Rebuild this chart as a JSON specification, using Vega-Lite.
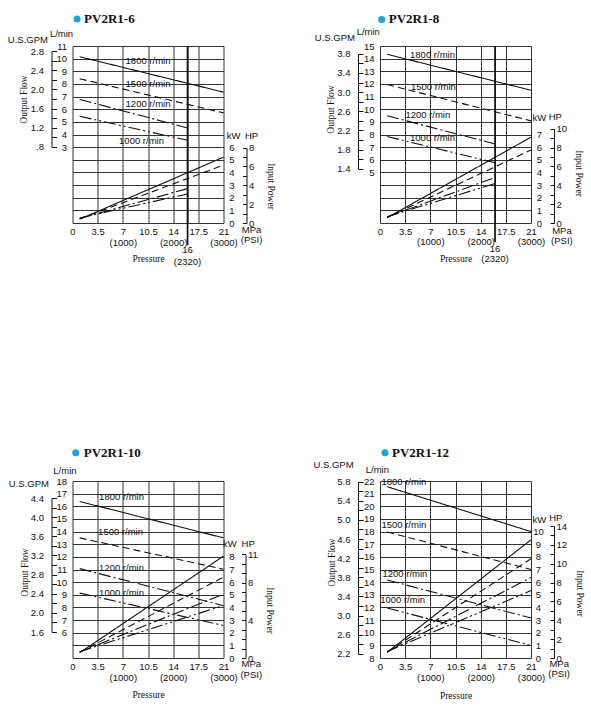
{
  "$schema": "https://vega.github.io/schema/vega-lite/v6.json",
  "background": "white",
  "padding": {"left": 7.5, "top": 13, "right": 0, "bottom": 0},
  "config": {
    "view": {"stroke": null},
    "axis": {"labelFont": "Liberation Sans", "labelFontSize": 9.5, "labelColor": "#111", "titleFont": "Liberation Serif", "titleFontSize": 9.5, "titleFontWeight": "normal", "titleColor": "#111", "gridColor": "#333", "gridWidth": 1, "gridOpacity": 1, "tickColor": "#111", "domainColor": "#111"}
  },
  "datasets": {
    "curves": [
      {"panel": "PV2R1-6", "kind": "flow", "rpm": "1800", "p": 1, "v": 10.15}, {"panel": "PV2R1-6", "kind": "flow", "rpm": "1800", "p": 21, "v": 7.35},
      {"panel": "PV2R1-6", "kind": "flow", "rpm": "1500", "p": 1, "v": 8.41}, {"panel": "PV2R1-6", "kind": "flow", "rpm": "1500", "p": 21, "v": 5.71},
      {"panel": "PV2R1-6", "kind": "flow", "rpm": "1200", "p": 1, "v": 6.77}, {"panel": "PV2R1-6", "kind": "flow", "rpm": "1200", "p": 16, "v": 4.52},
      {"panel": "PV2R1-6", "kind": "flow", "rpm": "1000", "p": 1, "v": 5.44}, {"panel": "PV2R1-6", "kind": "flow", "rpm": "1000", "p": 16, "v": 3.54},
      {"panel": "PV2R1-6", "kind": "power", "rpm": "1800", "p": 1, "v": 0.3}, {"panel": "PV2R1-6", "kind": "power", "rpm": "1800", "p": 21, "v": 5.21},
      {"panel": "PV2R1-6", "kind": "power", "rpm": "1500", "p": 1, "v": 0.33}, {"panel": "PV2R1-6", "kind": "power", "rpm": "1500", "p": 21, "v": 4.58},
      {"panel": "PV2R1-6", "kind": "power", "rpm": "1200", "p": 1, "v": 0.36}, {"panel": "PV2R1-6", "kind": "power", "rpm": "1200", "p": 16, "v": 2.72},
      {"panel": "PV2R1-6", "kind": "power", "rpm": "1000", "p": 1, "v": 0.4}, {"panel": "PV2R1-6", "kind": "power", "rpm": "1000", "p": 16, "v": 2.3},

      {"panel": "PV2R1-8", "kind": "flow", "rpm": "1800", "p": 1, "v": 14.34}, {"panel": "PV2R1-8", "kind": "flow", "rpm": "1800", "p": 21, "v": 11.5},
      {"panel": "PV2R1-8", "kind": "flow", "rpm": "1500", "p": 1, "v": 11.95}, {"panel": "PV2R1-8", "kind": "flow", "rpm": "1500", "p": 21, "v": 9.08},
      {"panel": "PV2R1-8", "kind": "flow", "rpm": "1200", "p": 1, "v": 9.48}, {"panel": "PV2R1-8", "kind": "flow", "rpm": "1200", "p": 16, "v": 7.25},
      {"panel": "PV2R1-8", "kind": "flow", "rpm": "1000", "p": 1, "v": 7.84}, {"panel": "PV2R1-8", "kind": "flow", "rpm": "1000", "p": 16, "v": 5.77},
      {"panel": "PV2R1-8", "kind": "power", "rpm": "1800", "p": 1, "v": 0.42}, {"panel": "PV2R1-8", "kind": "power", "rpm": "1800", "p": 21, "v": 6.79},
      {"panel": "PV2R1-8", "kind": "power", "rpm": "1500", "p": 1, "v": 0.45}, {"panel": "PV2R1-8", "kind": "power", "rpm": "1500", "p": 21, "v": 5.78},
      {"panel": "PV2R1-8", "kind": "power", "rpm": "1200", "p": 1, "v": 0.48}, {"panel": "PV2R1-8", "kind": "power", "rpm": "1200", "p": 16, "v": 3.6},
      {"panel": "PV2R1-8", "kind": "power", "rpm": "1000", "p": 1, "v": 0.5}, {"panel": "PV2R1-8", "kind": "power", "rpm": "1000", "p": 16, "v": 3.12},

      {"panel": "PV2R1-10", "kind": "flow", "rpm": "1800", "p": 1, "v": 16.38}, {"panel": "PV2R1-10", "kind": "flow", "rpm": "1800", "p": 21, "v": 13.5},
      {"panel": "PV2R1-10", "kind": "flow", "rpm": "1500", "p": 1, "v": 13.5}, {"panel": "PV2R1-10", "kind": "flow", "rpm": "1500", "p": 21, "v": 11.02},
      {"panel": "PV2R1-10", "kind": "flow", "rpm": "1200", "p": 1, "v": 11.07}, {"panel": "PV2R1-10", "kind": "flow", "rpm": "1200", "p": 21, "v": 8.14},
      {"panel": "PV2R1-10", "kind": "flow", "rpm": "1000", "p": 1, "v": 9.13}, {"panel": "PV2R1-10", "kind": "flow", "rpm": "1000", "p": 21, "v": 6.57},
      {"panel": "PV2R1-10", "kind": "power", "rpm": "1800", "p": 1, "v": 0.42}, {"panel": "PV2R1-10", "kind": "power", "rpm": "1800", "p": 21, "v": 8.06},
      {"panel": "PV2R1-10", "kind": "power", "rpm": "1500", "p": 1, "v": 0.45}, {"panel": "PV2R1-10", "kind": "power", "rpm": "1500", "p": 21, "v": 6.4},
      {"panel": "PV2R1-10", "kind": "power", "rpm": "1200", "p": 1, "v": 0.48}, {"panel": "PV2R1-10", "kind": "power", "rpm": "1200", "p": 21, "v": 5.05},
      {"panel": "PV2R1-10", "kind": "power", "rpm": "1000", "p": 1, "v": 0.5}, {"panel": "PV2R1-10", "kind": "power", "rpm": "1000", "p": 21, "v": 4.16},

      {"panel": "PV2R1-12", "kind": "flow", "rpm": "1800", "p": 1, "v": 21.55}, {"panel": "PV2R1-12", "kind": "flow", "rpm": "1800", "p": 21, "v": 18.0},
      {"panel": "PV2R1-12", "kind": "flow", "rpm": "1500", "p": 1, "v": 17.97}, {"panel": "PV2R1-12", "kind": "flow", "rpm": "1500", "p": 21, "v": 15.0},
      {"panel": "PV2R1-12", "kind": "flow", "rpm": "1200", "p": 1, "v": 14.17}, {"panel": "PV2R1-12", "kind": "flow", "rpm": "1200", "p": 21, "v": 11.16},
      {"panel": "PV2R1-12", "kind": "flow", "rpm": "1000", "p": 1, "v": 11.95}, {"panel": "PV2R1-12", "kind": "flow", "rpm": "1000", "p": 21, "v": 8.99},
      {"panel": "PV2R1-12", "kind": "power", "rpm": "1800", "p": 1, "v": 0.45}, {"panel": "PV2R1-12", "kind": "power", "rpm": "1800", "p": 21, "v": 9.35},
      {"panel": "PV2R1-12", "kind": "power", "rpm": "1500", "p": 1, "v": 0.48}, {"panel": "PV2R1-12", "kind": "power", "rpm": "1500", "p": 21, "v": 7.85},
      {"panel": "PV2R1-12", "kind": "power", "rpm": "1200", "p": 1, "v": 0.5}, {"panel": "PV2R1-12", "kind": "power", "rpm": "1200", "p": 21, "v": 6.37},
      {"panel": "PV2R1-12", "kind": "power", "rpm": "1000", "p": 1, "v": 0.52}, {"panel": "PV2R1-12", "kind": "power", "rpm": "1000", "p": 21, "v": 5.33}
    ],
    "notes": [
      {"panel": "PV2R1-6", "text": "1800 r/min", "p": 10.5, "u": 12.83},
      {"panel": "PV2R1-6", "text": "1500 r/min", "p": 10.5, "u": 11.03},
      {"panel": "PV2R1-6", "text": "1200 r/min", "p": 10.5, "u": 9.39},
      {"panel": "PV2R1-6", "text": "1000 r/min", "p": 9.6, "u": 6.48},
      {"panel": "PV2R1-6", "text": "U.S.GPM", "p": -6.2, "u": 14.47},
      {"panel": "PV2R1-6", "text": "L/min", "p": -1.53, "u": 14.93},
      {"panel": "PV2R1-6", "text": "kW", "p": 22.4, "u": 6.88},
      {"panel": "PV2R1-6", "text": "HP", "p": 24.9, "u": 6.88},
      {"panel": "PV2R1-6", "text": "MPa", "p": 24.9, "u": -0.53},
      {"panel": "PV2R1-6", "text": "(PSI)", "p": 24.9, "u": -1.38},
      {"panel": "PV2R1-6", "text": "16", "p": 16, "u": -2.15},
      {"panel": "PV2R1-6", "text": "(2320)", "p": 16, "u": -3.05},

      {"panel": "PV2R1-8", "text": "1800 r/min", "p": 7.3, "u": 13.3},
      {"panel": "PV2R1-8", "text": "1500 r/min", "p": 7.43, "u": 10.75},
      {"panel": "PV2R1-8", "text": "1200 r/min", "p": 6.65, "u": 8.58},
      {"panel": "PV2R1-8", "text": "1000 r/min", "p": 7.3, "u": 6.72},
      {"panel": "PV2R1-8", "text": "U.S.GPM", "p": -6.27, "u": 14.6},
      {"panel": "PV2R1-8", "text": "L/min", "p": -1.63, "u": 15.07},
      {"panel": "PV2R1-8", "text": "kW", "p": 22.16, "u": 8.29},
      {"panel": "PV2R1-8", "text": "HP", "p": 24.38, "u": 8.35},
      {"panel": "PV2R1-8", "text": "MPa", "p": 25.3, "u": -0.61},
      {"panel": "PV2R1-8", "text": "(PSI)", "p": 25.3, "u": -1.41},
      {"panel": "PV2R1-8", "text": "16", "p": 16, "u": -2.05},
      {"panel": "PV2R1-8", "text": "(2320)", "p": 16, "u": -2.85},

      {"panel": "PV2R1-10", "text": "1800 r/min", "p": 6.82, "u": 12.77},
      {"panel": "PV2R1-10", "text": "1500 r/min", "p": 6.68, "u": 9.97},
      {"panel": "PV2R1-10", "text": "1200 r/min", "p": 6.82, "u": 7.15},
      {"panel": "PV2R1-10", "text": "1000 r/min", "p": 6.82, "u": 5.13},
      {"panel": "PV2R1-10", "text": "U.S.GPM", "p": -6.06, "u": 13.77},
      {"panel": "PV2R1-10", "text": "L/min", "p": -1.05, "u": 14.79},
      {"panel": "PV2R1-10", "text": "kW", "p": 21.9, "u": 9.03},
      {"panel": "PV2R1-10", "text": "HP", "p": 24.43, "u": 9.03},
      {"panel": "PV2R1-10", "text": "MPa", "p": 24.86, "u": -0.5},
      {"panel": "PV2R1-10", "text": "(PSI)", "p": 24.86, "u": -1.31},

      {"panel": "PV2R1-12", "text": "1800 r/min", "p": 3.32, "u": 13.95},
      {"panel": "PV2R1-12", "text": "1500 r/min", "p": 3.32, "u": 10.54},
      {"panel": "PV2R1-12", "text": "1200 r/min", "p": 3.46, "u": 6.67},
      {"panel": "PV2R1-12", "text": "1000 r/min", "p": 3.14, "u": 4.6},
      {"panel": "PV2R1-12", "text": "U.S.GPM", "p": -6.46, "u": 15.26},
      {"panel": "PV2R1-12", "text": "L/min", "p": -0.37, "u": 14.87},
      {"panel": "PV2R1-12", "text": "kW", "p": 22.15, "u": 10.89},
      {"panel": "PV2R1-12", "text": "HP", "p": 24.45, "u": 11.07},
      {"panel": "PV2R1-12", "text": "MPa", "p": 24.92, "u": -0.5},
      {"panel": "PV2R1-12", "text": "(PSI)", "p": 24.92, "u": -1.28}
    ],
    "heads": [
      {"panel": "PV2R1-6", "p": 0.64, "u": 16.13},
      {"panel": "PV2R1-8", "p": 0.24, "u": 16.1},
      {"panel": "PV2R1-10", "p": 0.45, "u": 16.24},
      {"panel": "PV2R1-12", "p": 0.69, "u": 16.23}
    ],
    "limits": [
      {"panel": "PV2R1-6", "p": 16, "top": 14, "bottom": -1.75},
      {"panel": "PV2R1-8", "p": 16, "top": 14, "bottom": -1.5}
    ],
    "ranges": [
      {"panel": "PV2R1-6", "gpm": 0.8, "hp": 0}, {"panel": "PV2R1-6", "gpm": 2.8, "hp": 8},
      {"panel": "PV2R1-8", "gpm": 1.4, "hp": 0}, {"panel": "PV2R1-8", "gpm": 3.8, "hp": 10},
      {"panel": "PV2R1-10", "gpm": 1.6, "hp": 0}, {"panel": "PV2R1-10", "gpm": 4.4, "hp": 11},
      {"panel": "PV2R1-12", "gpm": 2.2, "hp": 0}, {"panel": "PV2R1-12", "gpm": 5.8, "hp": 14}
    ]
  },
  "columns": 2,
  "spacing": {"row": 179, "column": 37.5},
  "concat": [
    {
      "width": 151, "height": 177,
      "resolve": {"scale": {"y": "independent"}, "axis": {"y": "independent"}},
      "layer": [
        {
          "data": {"name": "curves"},
          "transform": [{"filter": "datum.panel == 'PV2R1-6' && datum.kind == 'power'"}],
          "mark": {"type": "line", "color": "#111", "strokeWidth": 1.1},
          "encoding": {
            "x": {"field": "p", "type": "quantitative", "scale": {"domain": [0, 21], "nice": false, "zero": false},
              "axis": {"values": [0, 3.5, 7, 10.5, 14, 16, 17.5, 21], "tickCount": 30, "grid": true, "ticks": false, "domain": false, "labelFlush": false, "labelOverlap": false, "labelBound": false, "labelPadding": 3, "labelLineHeight": 11,
                "labelExpr": "datum.value == 7 ? ['7','(1000)'] : datum.value == 14 ? ['14','(2000)'] : datum.value == 21 ? ['21','(3000)'] : datum.value == 16 ? '' : '' + datum.value",
                "title": "Pressure", "titleY": 35, "titleBaseline": "middle"}},
            "y": {"field": "v", "type": "quantitative", "scale": {"domain": [0, 14], "nice": false, "zero": false},
              "axis": {"orient": "right", "values": [0, 1, 2, 3, 4, 5, 6, 7, 8, 9, 10, 11, 12, 13, 14], "grid": true, "ticks": false, "domain": false, "labelAlign": "center", "labelPadding": 8, "labelExpr": "datum.value <= 6 ? datum.label : ''", "title": null}},
            "strokeDash": {"field": "rpm", "type": "nominal", "scale": {"domain": ["1800", "1500", "1200", "1000"], "range": [[1, 0], [7, 4], [12, 3, 2, 3], [12, 3, 2, 3, 2, 3]]}, "legend": null}
          }
        },
        {
          "data": {"name": "curves"},
          "transform": [{"filter": "datum.panel == 'PV2R1-6' && datum.kind == 'flow'"}],
          "mark": {"type": "line", "color": "#111", "strokeWidth": 1.1},
          "encoding": {
            "x": {"field": "p", "type": "quantitative", "scale": {"domain": [0, 21], "nice": false, "zero": false}},
            "y": {"field": "v", "type": "quantitative", "scale": {"domain": [-3, 11], "nice": false, "zero": false},
              "axis": {"orient": "left", "values": [3, 4, 5, 6, 7, 8, 9, 10, 11], "grid": false, "ticks": false, "domain": false, "labelPadding": 6, "title": null}},
            "strokeDash": {"field": "rpm", "type": "nominal", "scale": {"domain": ["1800", "1500", "1200", "1000"], "range": [[1, 0], [7, 4], [12, 3, 2, 3], [12, 3, 2, 3, 2, 3]]}, "legend": null}
          }
        },
        {
          "data": {"name": "ranges"},
          "transform": [{"filter": "datum.panel == 'PV2R1-6'"}],
          "mark": {"type": "point", "opacity": 0},
          "encoding": {
            "x": {"datum": 10, "type": "quantitative", "scale": {"domain": [0, 21], "nice": false, "zero": false}},
            "y": {"field": "gpm", "type": "quantitative", "scale": {"domain": [-0.7926, 2.9062], "nice": false, "zero": false},
              "axis": {"orient": "left", "offset": 21, "values": [0.8, 1, 1.2, 1.4, 1.6, 1.8, 2, 2.2, 2.4, 2.6, 2.8], "grid": false, "ticks": true, "tickSize": -5, "domain": true, "domainDash": [0, 76.2, 95.7, 1000], "labelPadding": 13,
                "labelExpr": "datum.value == 0.8 ? '.8' : (round(datum.value * 10) % 4 == 0 ? format(datum.value, '.1f') : '')",
                "title": "Output Flow", "titleAngle": -90, "titleX": -28, "titleY": 53, "titleAlign": "center", "titleBaseline": "middle"}}
          }
        },
        {
          "data": {"name": "ranges"},
          "transform": [{"filter": "datum.panel == 'PV2R1-6'"}],
          "mark": {"type": "point", "opacity": 0},
          "encoding": {
            "x": {"datum": 10, "type": "quantitative", "scale": {"domain": [0, 21], "nice": false, "zero": false}},
            "y": {"field": "hp", "type": "quantitative", "scale": {"domain": [0, 18.774], "nice": false, "zero": false},
              "axis": {"orient": "right", "offset": 23, "values": [0, 1, 2, 3, 4, 5, 6, 7, 8], "grid": false, "ticks": true, "tickSize": -4, "domain": true, "domainDash": [75.4, 1000], "labelPadding": 6,
                "labelExpr": "datum.value % 2 == 0 ? datum.label : ''",
                "title": "Input Power", "titleAngle": 90, "titleX": 24, "titleY": 140, "titleAlign": "center", "titleBaseline": "middle"}}
          }
        },
        {
          "data": {"name": "limits"},
          "transform": [{"filter": "datum.panel == 'PV2R1-6'"}],
          "mark": {"type": "rule", "color": "#111", "strokeWidth": 1.7},
          "encoding": {
            "x": {"field": "p", "type": "quantitative", "scale": {"domain": [0, 21], "nice": false, "zero": false}},
            "y": {"field": "top", "type": "quantitative", "scale": {"domain": [0, 14], "nice": false, "zero": false}, "axis": null},
            "y2": {"field": "bottom"}
          }
        },
        {
          "data": {"name": "notes"},
          "transform": [{"filter": "datum.panel == 'PV2R1-6'"}],
          "mark": {"type": "text", "font": "Liberation Sans", "fontSize": 9.5, "color": "#111"},
          "encoding": {
            "x": {"field": "p", "type": "quantitative", "scale": {"domain": [0, 21], "nice": false, "zero": false}},
            "y": {"field": "u", "type": "quantitative", "scale": {"domain": [0, 14], "nice": false, "zero": false}, "axis": null},
            "text": {"field": "text"}
          }
        },
        {
          "data": {"name": "heads"},
          "transform": [{"filter": "datum.panel == 'PV2R1-6'"}],
          "mark": {"type": "point", "filled": true, "color": "#1fa3e0", "opacity": 1, "size": 50},
          "encoding": {
            "x": {"field": "p", "type": "quantitative", "scale": {"domain": [0, 21], "nice": false, "zero": false}},
            "y": {"field": "u", "type": "quantitative", "scale": {"domain": [0, 14], "nice": false, "zero": false}, "axis": null}
          }
        },
        {
          "data": {"name": "heads"},
          "transform": [{"filter": "datum.panel == 'PV2R1-6'"}],
          "mark": {"type": "text", "font": "Liberation Serif", "fontSize": 13, "fontWeight": "bold", "color": "#111", "align": "left", "dx": 7},
          "encoding": {
            "x": {"field": "p", "type": "quantitative", "scale": {"domain": [0, 21], "nice": false, "zero": false}},
            "y": {"field": "u", "type": "quantitative", "scale": {"domain": [0, 14], "nice": false, "zero": false}, "axis": null},
            "text": {"field": "panel"}
          }
        }
      ]
    },
    {
      "width": 151, "height": 177,
      "resolve": {"scale": {"y": "independent"}, "axis": {"y": "independent"}},
      "layer": [
        {
          "data": {"name": "curves"},
          "transform": [{"filter": "datum.panel == 'PV2R1-8' && datum.kind == 'power'"}],
          "mark": {"type": "line", "color": "#111", "strokeWidth": 1.1},
          "encoding": {
            "x": {"field": "p", "type": "quantitative", "scale": {"domain": [0, 21], "nice": false, "zero": false},
              "axis": {"values": [0, 3.5, 7, 10.5, 14, 16, 17.5, 21], "tickCount": 30, "grid": true, "ticks": false, "domain": false, "labelFlush": false, "labelOverlap": false, "labelBound": false, "labelPadding": 3, "labelLineHeight": 10,
                "labelExpr": "datum.value == 7 ? ['7','(1000)'] : datum.value == 14 ? ['14','(2000)'] : datum.value == 21 ? ['21','(3000)'] : datum.value == 16 ? '' : '' + datum.value",
                "title": "Pressure", "titleY": 35, "titleBaseline": "middle"}},
            "y": {"field": "v", "type": "quantitative", "scale": {"domain": [0, 14], "nice": false, "zero": false},
              "axis": {"orient": "right", "values": [0, 1, 2, 3, 4, 5, 6, 7, 8, 9, 10, 11, 12, 13, 14], "grid": true, "ticks": false, "domain": false, "labelAlign": "center", "labelPadding": 8, "labelExpr": "datum.value <= 7 ? datum.label : ''", "title": null}},
            "strokeDash": {"field": "rpm", "type": "nominal", "scale": {"domain": ["1800", "1500", "1200", "1000"], "range": [[1, 0], [7, 4], [12, 3, 2, 3], [12, 3, 2, 3, 2, 3]]}, "legend": null}
          }
        },
        {
          "data": {"name": "curves"},
          "transform": [{"filter": "datum.panel == 'PV2R1-8' && datum.kind == 'flow'"}],
          "mark": {"type": "line", "color": "#111", "strokeWidth": 1.1},
          "encoding": {
            "x": {"field": "p", "type": "quantitative", "scale": {"domain": [0, 21], "nice": false, "zero": false}},
            "y": {"field": "v", "type": "quantitative", "scale": {"domain": [1, 15], "nice": false, "zero": false},
              "axis": {"orient": "left", "values": [5, 6, 7, 8, 9, 10, 11, 12, 13, 14, 15], "grid": false, "ticks": false, "domain": false, "labelPadding": 6, "title": null}},
            "strokeDash": {"field": "rpm", "type": "nominal", "scale": {"domain": ["1800", "1500", "1200", "1000"], "range": [[1, 0], [7, 4], [12, 3, 2, 3], [12, 3, 2, 3, 2, 3]]}, "legend": null}
          }
        },
        {
          "data": {"name": "ranges"},
          "transform": [{"filter": "datum.panel == 'PV2R1-8'"}],
          "mark": {"type": "point", "opacity": 0},
          "encoding": {
            "x": {"datum": 10, "type": "quantitative", "scale": {"domain": [0, 21], "nice": false, "zero": false}},
            "y": {"field": "gpm", "type": "quantitative", "scale": {"domain": [0.2642, 3.963], "nice": false, "zero": false},
              "axis": {"orient": "left", "offset": 22, "values": [1.4, 1.6, 1.8, 2, 2.2, 2.4, 2.6, 2.8, 3, 3.2, 3.4, 3.6, 3.8], "grid": false, "ticks": true, "tickSize": -5, "domain": true, "domainDash": [0, 54.35, 114.8, 1000], "labelPadding": 13,
                "labelExpr": "(round(datum.value * 10) - 2) % 4 == 0 ? format(datum.value, '.1f') : ''",
                "title": "Output Flow", "titleAngle": -90, "titleX": -28, "titleY": 63, "titleAlign": "center", "titleBaseline": "middle"}}
          }
        },
        {
          "data": {"name": "ranges"},
          "transform": [{"filter": "datum.panel == 'PV2R1-8'"}],
          "mark": {"type": "point", "opacity": 0},
          "encoding": {
            "x": {"datum": 10, "type": "quantitative", "scale": {"domain": [0, 21], "nice": false, "zero": false}},
            "y": {"field": "hp", "type": "quantitative", "scale": {"domain": [0, 18.774], "nice": false, "zero": false},
              "axis": {"orient": "right", "offset": 23, "values": [0, 1, 2, 3, 4, 5, 6, 7, 8, 9, 10], "grid": false, "ticks": true, "tickSize": -4, "domain": true, "domainDash": [94.3, 1000], "labelPadding": 6,
                "labelExpr": "datum.value % 2 == 0 ? datum.label : ''",
                "title": "Input Power", "titleAngle": 90, "titleX": 24, "titleY": 127, "titleAlign": "center", "titleBaseline": "middle"}}
          }
        },
        {
          "data": {"name": "limits"},
          "transform": [{"filter": "datum.panel == 'PV2R1-8'"}],
          "mark": {"type": "rule", "color": "#111", "strokeWidth": 1.7},
          "encoding": {
            "x": {"field": "p", "type": "quantitative", "scale": {"domain": [0, 21], "nice": false, "zero": false}},
            "y": {"field": "top", "type": "quantitative", "scale": {"domain": [0, 14], "nice": false, "zero": false}, "axis": null},
            "y2": {"field": "bottom"}
          }
        },
        {
          "data": {"name": "notes"},
          "transform": [{"filter": "datum.panel == 'PV2R1-8'"}],
          "mark": {"type": "text", "font": "Liberation Sans", "fontSize": 9.5, "color": "#111"},
          "encoding": {
            "x": {"field": "p", "type": "quantitative", "scale": {"domain": [0, 21], "nice": false, "zero": false}},
            "y": {"field": "u", "type": "quantitative", "scale": {"domain": [0, 14], "nice": false, "zero": false}, "axis": null},
            "text": {"field": "text"}
          }
        },
        {
          "data": {"name": "heads"},
          "transform": [{"filter": "datum.panel == 'PV2R1-8'"}],
          "mark": {"type": "point", "filled": true, "color": "#1fa3e0", "opacity": 1, "size": 50},
          "encoding": {
            "x": {"field": "p", "type": "quantitative", "scale": {"domain": [0, 21], "nice": false, "zero": false}},
            "y": {"field": "u", "type": "quantitative", "scale": {"domain": [0, 14], "nice": false, "zero": false}, "axis": null}
          }
        },
        {
          "data": {"name": "heads"},
          "transform": [{"filter": "datum.panel == 'PV2R1-8'"}],
          "mark": {"type": "text", "font": "Liberation Serif", "fontSize": 13, "fontWeight": "bold", "color": "#111", "align": "left", "dx": 7},
          "encoding": {
            "x": {"field": "p", "type": "quantitative", "scale": {"domain": [0, 21], "nice": false, "zero": false}},
            "y": {"field": "u", "type": "quantitative", "scale": {"domain": [0, 14], "nice": false, "zero": false}, "axis": null},
            "text": {"field": "panel"}
          }
        }
      ]
    },
    {
      "width": 151, "height": 177,
      "resolve": {"scale": {"y": "independent"}, "axis": {"y": "independent"}},
      "layer": [
        {
          "data": {"name": "curves"},
          "transform": [{"filter": "datum.panel == 'PV2R1-10' && datum.kind == 'power'"}],
          "mark": {"type": "line", "color": "#111", "strokeWidth": 1.1},
          "encoding": {
            "x": {"field": "p", "type": "quantitative", "scale": {"domain": [0, 21], "nice": false, "zero": false},
              "axis": {"values": [0, 3.5, 7, 10.5, 14, 17.5, 21], "tickCount": 30, "grid": true, "ticks": false, "domain": false, "labelFlush": false, "labelOverlap": false, "labelBound": false, "labelPadding": 3, "labelLineHeight": 11,
                "labelExpr": "datum.value == 7 ? ['7','(1000)'] : datum.value == 14 ? ['14','(2000)'] : datum.value == 21 ? ['21','(3000)'] : '' + datum.value",
                "title": "Pressure", "titleY": 36, "titleBaseline": "middle"}},
            "y": {"field": "v", "type": "quantitative", "scale": {"domain": [0, 14], "nice": false, "zero": false},
              "axis": {"orient": "right", "values": [0, 1, 2, 3, 4, 5, 6, 7, 8, 9, 10, 11, 12, 13, 14], "grid": true, "ticks": false, "domain": false, "labelAlign": "center", "labelPadding": 8, "labelExpr": "datum.value <= 8 ? datum.label : ''", "title": null}},
            "strokeDash": {"field": "rpm", "type": "nominal", "scale": {"domain": ["1800", "1500", "1200", "1000"], "range": [[1, 0], [7, 4], [12, 3, 2, 3], [12, 3, 2, 3, 2, 3]]}, "legend": null}
          }
        },
        {
          "data": {"name": "curves"},
          "transform": [{"filter": "datum.panel == 'PV2R1-10' && datum.kind == 'flow'"}],
          "mark": {"type": "line", "color": "#111", "strokeWidth": 1.1},
          "encoding": {
            "x": {"field": "p", "type": "quantitative", "scale": {"domain": [0, 21], "nice": false, "zero": false}},
            "y": {"field": "v", "type": "quantitative", "scale": {"domain": [4, 18], "nice": false, "zero": false},
              "axis": {"orient": "left", "values": [6, 7, 8, 9, 10, 11, 12, 13, 14, 15, 16, 17, 18], "grid": false, "ticks": false, "domain": false, "labelPadding": 6, "title": null}},
            "strokeDash": {"field": "rpm", "type": "nominal", "scale": {"domain": ["1800", "1500", "1200", "1000"], "range": [[1, 0], [7, 4], [12, 3, 2, 3], [12, 3, 2, 3, 2, 3]]}, "legend": null}
          }
        },
        {
          "data": {"name": "ranges"},
          "transform": [{"filter": "datum.panel == 'PV2R1-10'"}],
          "mark": {"type": "point", "opacity": 0},
          "encoding": {
            "x": {"datum": 10, "type": "quantitative", "scale": {"domain": [0, 21], "nice": false, "zero": false}},
            "y": {"field": "gpm", "type": "quantitative", "scale": {"domain": [1.0568, 4.7556], "nice": false, "zero": false},
              "axis": {"orient": "left", "offset": 21, "values": [1.6, 1.8, 2, 2.2, 2.4, 2.6, 2.8, 3, 3.2, 3.4, 3.6, 3.8, 4, 4.2, 4.4], "grid": false, "ticks": true, "tickSize": -5, "domain": true, "domainDash": [0, 26.0, 134.0, 1000], "labelPadding": 13,
                "labelExpr": "round(datum.value * 10) % 4 == 0 ? format(datum.value, '.1f') : ''",
                "title": "Output Flow", "titleAngle": -90, "titleX": -27, "titleY": 91, "titleAlign": "center", "titleBaseline": "middle"}}
          }
        },
        {
          "data": {"name": "ranges"},
          "transform": [{"filter": "datum.panel == 'PV2R1-10'"}],
          "mark": {"type": "point", "opacity": 0},
          "encoding": {
            "x": {"datum": 10, "type": "quantitative", "scale": {"domain": [0, 21], "nice": false, "zero": false}},
            "y": {"field": "hp", "type": "quantitative", "scale": {"domain": [0, 18.774], "nice": false, "zero": false},
              "axis": {"orient": "right", "offset": 22, "values": [0, 1, 2, 3, 4, 5, 6, 7, 8, 9, 10, 11], "grid": false, "ticks": true, "tickSize": -4, "domain": true, "domainDash": [103.7, 1000], "labelPadding": 6,
                "labelExpr": "datum.value % 2 == 0 || datum.value == 11 ? datum.label : ''",
                "title": "Input Power", "titleAngle": 90, "titleX": 24, "titleY": 129, "titleAlign": "center", "titleBaseline": "middle"}}
          }
        },
        {
          "data": {"name": "notes"},
          "transform": [{"filter": "datum.panel == 'PV2R1-10'"}],
          "mark": {"type": "text", "font": "Liberation Sans", "fontSize": 9.5, "color": "#111"},
          "encoding": {
            "x": {"field": "p", "type": "quantitative", "scale": {"domain": [0, 21], "nice": false, "zero": false}},
            "y": {"field": "u", "type": "quantitative", "scale": {"domain": [0, 14], "nice": false, "zero": false}, "axis": null},
            "text": {"field": "text"}
          }
        },
        {
          "data": {"name": "heads"},
          "transform": [{"filter": "datum.panel == 'PV2R1-10'"}],
          "mark": {"type": "point", "filled": true, "color": "#1fa3e0", "opacity": 1, "size": 50},
          "encoding": {
            "x": {"field": "p", "type": "quantitative", "scale": {"domain": [0, 21], "nice": false, "zero": false}},
            "y": {"field": "u", "type": "quantitative", "scale": {"domain": [0, 14], "nice": false, "zero": false}, "axis": null}
          }
        },
        {
          "data": {"name": "heads"},
          "transform": [{"filter": "datum.panel == 'PV2R1-10'"}],
          "mark": {"type": "text", "font": "Liberation Serif", "fontSize": 13, "fontWeight": "bold", "color": "#111", "align": "left", "dx": 8},
          "encoding": {
            "x": {"field": "p", "type": "quantitative", "scale": {"domain": [0, 21], "nice": false, "zero": false}},
            "y": {"field": "u", "type": "quantitative", "scale": {"domain": [0, 14], "nice": false, "zero": false}, "axis": null},
            "text": {"field": "panel"}
          }
        }
      ]
    },
    {
      "width": 151, "height": 177,
      "resolve": {"scale": {"y": "independent"}, "axis": {"y": "independent"}},
      "layer": [
        {
          "data": {"name": "curves"},
          "transform": [{"filter": "datum.panel == 'PV2R1-12' && datum.kind == 'power'"}],
          "mark": {"type": "line", "color": "#111", "strokeWidth": 1.1},
          "encoding": {
            "x": {"field": "p", "type": "quantitative", "scale": {"domain": [0, 21], "nice": false, "zero": false},
              "axis": {"values": [0, 3.5, 7, 10.5, 14, 17.5, 21], "tickCount": 30, "grid": true, "ticks": false, "domain": false, "labelFlush": false, "labelOverlap": false, "labelBound": false, "labelPadding": 3, "labelLineHeight": 11,
                "labelExpr": "datum.value == 7 ? ['7','(1000)'] : datum.value == 14 ? ['14','(2000)'] : datum.value == 21 ? ['21','(3000)'] : '' + datum.value",
                "title": "Pressure", "titleY": 37, "titleBaseline": "middle"}},
            "y": {"field": "v", "type": "quantitative", "scale": {"domain": [0, 14], "nice": false, "zero": false},
              "axis": {"orient": "right", "values": [0, 1, 2, 3, 4, 5, 6, 7, 8, 9, 10, 11, 12, 13, 14], "grid": true, "ticks": false, "domain": false, "labelAlign": "center", "labelPadding": 7, "labelExpr": "datum.value <= 10 ? datum.label : ''", "title": null}},
            "strokeDash": {"field": "rpm", "type": "nominal", "scale": {"domain": ["1800", "1500", "1200", "1000"], "range": [[1, 0], [7, 4], [12, 3, 2, 3], [12, 3, 2, 3, 2, 3]]}, "legend": null}
          }
        },
        {
          "data": {"name": "curves"},
          "transform": [{"filter": "datum.panel == 'PV2R1-12' && datum.kind == 'flow'"}],
          "mark": {"type": "line", "color": "#111", "strokeWidth": 1.1},
          "encoding": {
            "x": {"field": "p", "type": "quantitative", "scale": {"domain": [0, 21], "nice": false, "zero": false}},
            "y": {"field": "v", "type": "quantitative", "scale": {"domain": [8, 22], "nice": false, "zero": false},
              "axis": {"orient": "left", "values": [8, 9, 10, 11, 12, 13, 14, 15, 16, 17, 18, 19, 20, 21, 22], "grid": false, "ticks": false, "domain": false, "labelPadding": 6, "title": null}},
            "strokeDash": {"field": "rpm", "type": "nominal", "scale": {"domain": ["1800", "1500", "1200", "1000"], "range": [[1, 0], [7, 4], [12, 3, 2, 3], [12, 3, 2, 3, 2, 3]]}, "legend": null}
          }
        },
        {
          "data": {"name": "ranges"},
          "transform": [{"filter": "datum.panel == 'PV2R1-12'"}],
          "mark": {"type": "point", "opacity": 0},
          "encoding": {
            "x": {"datum": 10, "type": "quantitative", "scale": {"domain": [0, 21], "nice": false, "zero": false}},
            "y": {"field": "gpm", "type": "quantitative", "scale": {"domain": [2.1136, 5.8124], "nice": false, "zero": false},
              "axis": {"orient": "left", "offset": 22, "values": [2.2, 2.4, 2.6, 2.8, 3, 3.2, 3.4, 3.6, 3.8, 4, 4.2, 4.4, 4.6, 4.8, 5, 5.2, 5.4, 5.6, 5.8], "grid": false, "ticks": true, "tickSize": -5, "domain": true, "domainDash": [0, 4.13, 172.3, 1000], "labelPadding": 13,
                "labelExpr": "(round(datum.value * 10) - 2) % 4 == 0 ? format(datum.value, '.1f') : ''",
                "title": "Output Flow", "titleAngle": -90, "titleX": -27, "titleY": 81, "titleAlign": "center", "titleBaseline": "middle"}}
          }
        },
        {
          "data": {"name": "ranges"},
          "transform": [{"filter": "datum.panel == 'PV2R1-12'"}],
          "mark": {"type": "point", "opacity": 0},
          "encoding": {
            "x": {"datum": 10, "type": "quantitative", "scale": {"domain": [0, 21], "nice": false, "zero": false}},
            "y": {"field": "hp", "type": "quantitative", "scale": {"domain": [0, 18.774], "nice": false, "zero": false},
              "axis": {"orient": "right", "offset": 23, "values": [0, 1, 2, 3, 4, 5, 6, 7, 8, 9, 10, 11, 12, 13, 14], "grid": false, "ticks": true, "tickSize": -4, "domain": true, "domainDash": [132.0, 1000], "labelPadding": 6,
                "labelExpr": "datum.value % 2 == 0 ? datum.label : ''",
                "title": "Input Power", "titleAngle": 90, "titleX": 25, "titleY": 112, "titleAlign": "center", "titleBaseline": "middle"}}
          }
        },
        {
          "data": {"name": "notes"},
          "transform": [{"filter": "datum.panel == 'PV2R1-12'"}],
          "mark": {"type": "text", "font": "Liberation Sans", "fontSize": 9.5, "color": "#111"},
          "encoding": {
            "x": {"field": "p", "type": "quantitative", "scale": {"domain": [0, 21], "nice": false, "zero": false}},
            "y": {"field": "u", "type": "quantitative", "scale": {"domain": [0, 14], "nice": false, "zero": false}, "axis": null},
            "text": {"field": "text"}
          }
        },
        {
          "data": {"name": "heads"},
          "transform": [{"filter": "datum.panel == 'PV2R1-12'"}],
          "mark": {"type": "point", "filled": true, "color": "#1fa3e0", "opacity": 1, "size": 50},
          "encoding": {
            "x": {"field": "p", "type": "quantitative", "scale": {"domain": [0, 21], "nice": false, "zero": false}},
            "y": {"field": "u", "type": "quantitative", "scale": {"domain": [0, 14], "nice": false, "zero": false}, "axis": null}
          }
        },
        {
          "data": {"name": "heads"},
          "transform": [{"filter": "datum.panel == 'PV2R1-12'"}],
          "mark": {"type": "text", "font": "Liberation Serif", "fontSize": 13, "fontWeight": "bold", "color": "#111", "align": "left", "dx": 7},
          "encoding": {
            "x": {"field": "p", "type": "quantitative", "scale": {"domain": [0, 21], "nice": false, "zero": false}},
            "y": {"field": "u", "type": "quantitative", "scale": {"domain": [0, 14], "nice": false, "zero": false}, "axis": null},
            "text": {"field": "panel"}
          }
        }
      ]
    }
  ]
}
